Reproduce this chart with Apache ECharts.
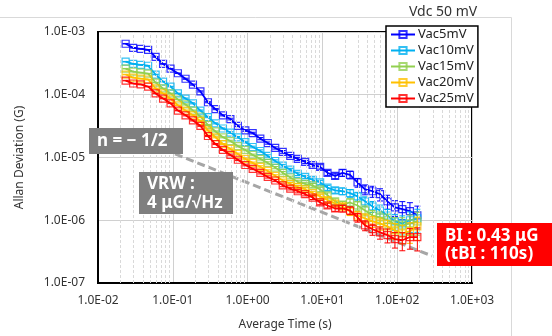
<!DOCTYPE html>
<html>
<head>
<meta charset="utf-8">
<script src="https://cdn.jsdelivr.net/npm/echarts@6/dist/echarts.min.js"></script>
<style>
  html, body { margin: 0; padding: 0; background: #fff; }
  #chart { width: 552px; height: 336px; }
</style>
</head>
<body>
<div id="chart"></div>
<script>
// averaging time (s)
const tau = [0.0234, 0.0295, 0.0372, 0.0468, 0.0589, 0.0741, 0.0933, 0.117, 0.148, 0.186,
  0.234, 0.295, 0.372, 0.468, 0.589, 0.741, 0.933, 1.17, 1.48, 1.86,
  2.34, 2.95, 3.72, 4.68, 5.89, 7.41, 9.33, 11.7, 14.8, 18.6,
  23.4, 29.5, 37.2, 46.8, 58.9, 74.1, 93.3, 117, 148, 186];

// Allan deviation (G)
const vac5 = [6.5e-4, 5.6e-4, 5.4e-4, 5.2e-4, 4.0e-4, 3.1e-4, 2.6e-4, 2.2e-4, 1.8e-4, 1.45e-4,
  1.13e-4, 7.6e-5, 5.9e-5, 4.7e-5, 4.1e-5, 3.2e-5, 2.7e-5, 2.45e-5, 2.0e-5, 1.7e-5,
  1.42e-5, 1.23e-5, 1.06e-5, 9.5e-6, 8.5e-6, 7.6e-6, 7.1e-6, 5.7e-6, 5.1e-6, 5.7e-6,
  5.3e-6, 4.0e-6, 3.1e-6, 2.9e-6, 2.6e-6, 2.0e-6, 1.6e-6, 1.5e-6, 1.4e-6, 1.2e-6];
const vac10 = [3.36e-4, 3.1e-4, 3.0e-4, 2.9e-4, 2.1e-4, 1.62e-4, 1.35e-4, 1.05e-4, 8.7e-5, 7.3e-5,
  5.6e-5, 4.4e-5, 3.5e-5, 2.9e-5, 2.5e-5, 2.1e-5, 1.76e-5, 1.47e-5, 1.27e-5, 1.06e-5,
  8.8e-6, 7.4e-6, 6.4e-6, 5.5e-6, 4.9e-6, 4.4e-6, 4.0e-6, 3.3e-6, 3.0e-6, 2.9e-6,
  2.7e-6, 2.4e-6, 2.0e-6, 1.66e-6, 1.43e-6, 1.19e-6, 9.6e-7, 8.9e-7, 1.0e-6, 1.07e-6];
const vac15 = [2.6e-4, 2.33e-4, 2.25e-4, 2.17e-4, 1.56e-4, 1.26e-4, 1.05e-4, 8.4e-5, 7.0e-5, 5.6e-5,
  4.5e-5, 3.3e-5, 2.6e-5, 2.1e-5, 1.83e-5, 1.52e-5, 1.32e-5, 1.1e-5, 9.5e-6, 8.2e-6,
  6.9e-6, 5.7e-6, 4.8e-6, 4.1e-6, 3.8e-6, 3.6e-6, 3.1e-6, 2.5e-6, 2.0e-6, 1.78e-6,
  1.92e-6, 1.72e-6, 1.43e-6, 1.19e-6, 1.11e-6, 1.0e-6, 8.6e-7, 8.3e-7, 8.9e-7, 9.6e-7];
const vac20 = [2.1e-4, 1.88e-4, 1.81e-4, 1.75e-4, 1.26e-4, 1.05e-4, 8.7e-5, 6.8e-5, 5.6e-5, 4.7e-5,
  3.8e-5, 2.7e-5, 2.1e-5, 1.64e-5, 1.37e-5, 1.14e-5, 9.5e-6, 8.2e-6, 7.1e-6, 6.1e-6,
  5.1e-6, 4.3e-6, 3.8e-6, 3.4e-6, 3.1e-6, 2.7e-6, 2.4e-6, 2.1e-6, 1.85e-6, 1.66e-6,
  1.38e-6, 1.19e-6, 1.07e-6, 9.6e-7, 8.9e-7, 8.0e-7, 6.9e-7, 6.2e-7, 6.7e-7, 8.0e-7];
const vac25 = [1.68e-4, 1.51e-4, 1.46e-4, 1.35e-4, 1.05e-4, 8.7e-5, 7.3e-5, 5.6e-5, 4.7e-5, 3.9e-5,
  3.2e-5, 2.2e-5, 1.64e-5, 1.32e-5, 1.1e-5, 9.2e-6, 7.6e-6, 6.6e-6, 5.7e-6, 4.9e-6,
  4.3e-6, 3.6e-6, 3.2e-6, 2.9e-6, 2.6e-6, 2.3e-6, 1.92e-6, 1.72e-6, 1.54e-6, 1.54e-6,
  1.43e-6, 1.11e-6, 8.3e-7, 7.2e-7, 6.4e-7, 5.8e-7, 5.0e-7, 4.8e-7, 5.4e-7, 5.4e-7];

// relative error bar half-length per tau
const errFrac = [0.01, 0.01, 0.01, 0.01, 0.01, 0.01, 0.01, 0.01, 0.02, 0.02,
  0.02, 0.02, 0.02, 0.02, 0.03, 0.03, 0.03, 0.03, 0.04, 0.04,
  0.04, 0.05, 0.05, 0.06, 0.06, 0.07, 0.08, 0.09, 0.1, 0.12,
  0.14, 0.16, 0.18, 0.2, 0.22, 0.25, 0.28, 0.32, 0.36, 0.4];

const seriesNames = ['Vac5mV', 'Vac10mV', 'Vac15mV', 'Vac20mV', 'Vac25mV'];
const seriesData = [vac5, vac10, vac15, vac20, vac25];
const colors = ['#0000ff', '#00b0f0', '#92d050', '#ffc000', '#ff0000'];

// n = -1/2 reference line (velocity random walk)
const vrwTau = [0.107, 292];
const vrwSigma = [1.14e-5, 2.7e-7];
const biLevel = 4.3e-7;

const minorX = [];
for (let e = -2; e < 3; e++) for (let m = 2; m <= 9; m++) minorX.push(m * Math.pow(10, e));
const minorY = [];
for (let e = -7; e < -3; e++) for (let m = 2; m <= 9; m++) minorY.push(m * Math.pow(10, e));

const FONT = '"Noto Sans", sans-serif';

function sciLabel(v) {
    const e = Math.round(Math.log10(v));
    return '1.0E' + (e < 0 ? '-' : '+') + String(Math.abs(e)).padStart(2, '0');
}

const chart = echarts.init(document.getElementById('chart'), null, { renderer: 'canvas' });

const series = [
    {
        name: 'minorGrid',
        type: 'line',
        data: [],
        silent: true,
        z: 0,
        markLine: {
            silent: true,
            symbol: ['none', 'none'],
            label: { show: false },
            animation: false,
            lineStyle: { color: '#d9d9d9', width: 1, type: [3, 2] },
            data: minorX.map((v) => ({ xAxis: v })).concat(minorY.map((v) => ({ yAxis: v }))),
        },
    },
    {
        name: 'BI',
        type: 'line',
        data: [],
        silent: true,
        markLine: {
            silent: true,
            symbol: ['none', 'none'],
            label: { show: false },
            animation: false,
            lineStyle: { color: '#000', width: 2, type: [7, 3] },
            data: [{ yAxis: biLevel }],
        },
    },
    {
        name: 'VRW',
        type: 'line',
        data: vrwTau.map((t, i) => [t, vrwSigma[i]]),
        showSymbol: false,
        silent: true,
        z: 1,
        lineStyle: { color: '#a6a6a6', width: 3, type: [8, 4] },
    },
];

seriesData.forEach((vals, s) => {
    series.push({
        name: seriesNames[s],
        type: 'line',
        data: tau.map((t, i) => [t, vals[i]]),
        symbol: 'rect',
        symbolSize: 7,
        lineStyle: { color: colors[s], width: 1.8 },
        itemStyle: { color: 'rgba(255,255,255,0)', borderColor: colors[s], borderWidth: 1.2, opacity: 0.8 },
        z: 3 + s,
    });
    series.push({
        name: 'err' + s,
        type: 'custom',
        data: tau.map((t, i) => [t, vals[i] * (1 - errFrac[i]), vals[i] * (1 + errFrac[i])]),
        encode: { x: 0, y: [1, 2] },
        silent: true,
        z: 3 + s,
        renderItem: (params, api) => {
            const top = api.coord([api.value(0), api.value(2)]);
            const bot = api.coord([api.value(0), api.value(1)]);
            const st = { stroke: colors[s], lineWidth: 1 };
            return {
                type: 'group',
                children: [
                    { type: 'line', shape: { x1: top[0], y1: top[1], x2: bot[0], y2: bot[1] }, style: st },
                    { type: 'line', shape: { x1: top[0] - 3, y1: top[1], x2: top[0] + 3, y2: top[1] }, style: st },
                    { type: 'line', shape: { x1: bot[0] - 3, y1: bot[1], x2: bot[0] + 3, y2: bot[1] }, style: st },
                ],
            };
        },
    });
});

const labelFont = 'bold 17px ' + FONT;

// annotation box: rectangle plus lines of white text, all above the plot
function noteBox(x, y, w, h, fill, lines, lineY) {
    const els = [{ type: 'rect', z: 50, silent: true, shape: { x: x, y: y, width: w, height: h }, style: { fill: fill } }];
    lines.forEach((t, i) => {
        els.push({
            type: 'text', z: 51, silent: true,
            style: { text: t, x: x + 8, y: y + lineY[i], fill: '#fff', font: labelFont, verticalAlign: 'middle' },
        });
    });
    return els;
}

const option = {
    animation: false,
    textStyle: { fontFamily: FONT },
    title: {
        text: 'Vdc 50 mV',
        left: 409,
        top: 5,
        padding: 0,
        textStyle: { fontFamily: FONT, fontSize: 14, fontWeight: 'normal', color: '#333' },
    },
    legend: {
        data: seriesNames,
        orient: 'vertical',
        left: 386,
        top: 26,
        padding: [2, 4, 2, 4],
        itemGap: 3,
        itemWidth: 24,
        itemHeight: 9,
        backgroundColor: '#fff',
        borderColor: '#000',
        borderWidth: 1.5,
        borderRadius: 0,
        textStyle: { fontFamily: FONT, fontSize: 13, color: '#222', lineHeight: 13, padding: [0, 0, 0, -2] },
        z: 20,
    },
    grid: {
        left: 98,
        top: 32,
        right: 80,
        bottom: 51,
        show: true,
        borderColor: '#000',
        borderWidth: 2,
        containLabel: false,
    },
    xAxis: {
        type: 'log',
        logBase: 10,
        min: 1e-2,
        max: 1e3,
        interval: 1,
        name: 'Average Time (s)',
        nameLocation: 'middle',
        nameGap: 36,
        nameTextStyle: { fontFamily: FONT, fontSize: 12, color: '#333' },
        axisLine: { lineStyle: { color: '#000', width: 2 } },
        axisTick: { show: false },
        axisLabel: { fontFamily: FONT, fontSize: 12, color: '#333', margin: 12, formatter: sciLabel },
        splitLine: { show: true, lineStyle: { color: '#d0d0d0', width: 1 } },
    },
    yAxis: {
        type: 'log',
        logBase: 10,
        min: 1e-7,
        max: 1e-3,
        interval: 1,
        name: 'Allan Deviation (G)',
        nameLocation: 'middle',
        nameGap: 72,
        nameTextStyle: { fontFamily: FONT, fontSize: 12, color: '#333' },
        axisLine: { lineStyle: { color: '#000', width: 2 } },
        axisTick: { show: false },
        axisLabel: { fontFamily: FONT, fontSize: 12, color: '#333', margin: 13, formatter: sciLabel },
        splitLine: { show: true, lineStyle: { color: '#d0d0d0', width: 1 } },
    },
    series: series,
    graphic: {
        elements: [
            { type: 'line', silent: true, z: 0, shape: { x1: 0, y1: 17.5, x2: 511.5, y2: 17.5 }, style: { stroke: '#d9d9d9', lineWidth: 1 } },
            { type: 'line', silent: true, z: 0, shape: { x1: 511.5, y1: 17.5, x2: 511.5, y2: 336 }, style: { stroke: '#d9d9d9', lineWidth: 1 } },
        ].concat(
            noteBox(89, 128, 94, 26, '#7f7f7f', ['n = − 1/2'], [13]),
            noteBox(139, 172, 94, 42, '#7f7f7f', ['VRW :', '4 μG/√Hz'], [12, 31]),
            noteBox(437, 223, 115, 43, '#ff0000', ['BI : 0.43 μG', '(tBI : 110s)'], [13, 31])
        ),
    },
};

chart.setOption(option);
</script>
</body>
</html>
